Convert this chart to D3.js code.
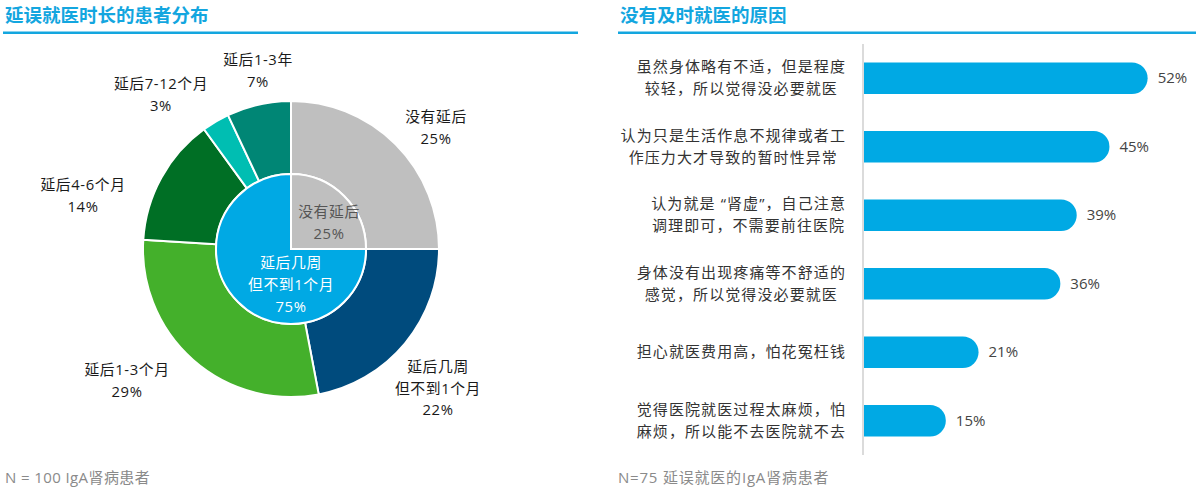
<!DOCTYPE html>
<html>
<head>
<meta charset="utf-8">
<script src="https://cdn.jsdelivr.net/npm/d3@7"></script>
<style>
  body { margin: 0; background: #fff; }
  svg { display: block; font-family: "Open Sans", "Noto Sans CJK SC", sans-serif; }
</style>
</head>
<body>
<svg width="1196" height="495"></svg>
<script>
// ---- Data ----
// outer ring (delay duration), clockwise from 12 o'clock
const delayLabels = ["没有延后", "延后几周|但不到1个月", "延后1-3个月", "延后4-6个月", "延后7-12个月", "延后1-3年"];
const delayValues = [25, 22, 29, 14, 3, 7];
const delayColors = ["#bfbfbf", "#004b7d", "#44b02b", "#006f25", "#00beb2", "#008675"];

// inner disc
const innerLabels = ["没有延后", "延后几周|但不到1个月"];
const innerValues = [25, 75];
const innerColors = ["#bfbfbf", "#00a9e4"];

// reasons for not seeking care
const reasonLabels = [
  "虽然身体略有不适，但是程度|较轻，所以觉得没必要就医",
  "认为只是生活作息不规律或者工|作压力大才导致的暂时性异常",
  "认为就是 “肾虚”，自己注意|调理即可，不需要前往医院",
  "身体没有出现疼痛等不舒适的|感觉，所以觉得没必要就医",
  "担心就医费用高，怕花冤枉钱",
  "觉得医院就医过程太麻烦，怕|麻烦，所以能不去医院就不去"
];
const reasonValues = [52, 45, 39, 36, 21, 15];

const svg = d3.select("svg");
const blue = "#13a6df";

// ---- Titles ----
function header(x, x2, title) {
  svg.append("text")
    .attr("x", x).attr("y", 22)
    .attr("fill", blue)
    .attr("font-size", 18.5)
    .attr("font-weight", "bold")
    .text(title);
  svg.append("rect")
    .attr("x", x - 2).attr("y", 31.5)
    .attr("width", x2 - x + 2).attr("height", 2.5)
    .attr("fill", blue);
}
header(5, 578, "延误就医时长的患者分布");
header(620, 1196, "没有及时就医的原因");

// ---- Left: nested pie ----
const cx = 291, cy = 249;
const rIn = 75, rOut = 148;
const pie = d3.pie().sort(null).value((d) => d);

const g = svg.append("g").attr("transform", `translate(${cx},${cy})`);

const outerArc = d3.arc().innerRadius(rIn).outerRadius(rOut);
g.append("g")
  .selectAll("path")
  .data(pie(delayValues))
  .join("path")
  .attr("d", outerArc)
  .attr("fill", (d, i) => delayColors[i])
  .attr("stroke", "#fff")
  .attr("stroke-width", 2);

const innerArc = d3.arc().innerRadius(0).outerRadius(rIn);
g.append("g")
  .selectAll("path")
  .data(pie(innerValues))
  .join("path")
  .attr("d", innerArc)
  .attr("fill", (d, i) => innerColors[i])
  .attr("stroke", "#fff")
  .attr("stroke-width", 2);

// multi-line label helper (lines split on "|", value appended as last line)
function multiLabel(sel, x, y, lines, color, size, lh) {
  const t = sel.append("text")
    .attr("text-anchor", "middle")
    .attr("fill", color)
    .attr("font-size", size)
    .attr("letter-spacing", 0.6);
  lines.forEach((s, i) => {
    t.append("tspan").attr("x", x).attr("y", y + i * lh).text(s);
  });
  return t;
}

// outer labels: placed around the ring
const outerLabelPos = [
  [145, -127], [147, 123], [-164, 126], [-208, -59], [-130, -160], [-33, -184]
];
pie(delayValues).forEach((d, i) => {
  const [dx, dy] = outerLabelPos[i];
  multiLabel(g, dx, dy, [...delayLabels[i].split("|"), delayValues[i] + "%"], "#1a1a1a", 14.8, 21.5);
});

// inner labels
multiLabel(g, 38, -32, [...innerLabels[0].split("|"), innerValues[0] + "%"], "#555", 14.8, 21.5);
multiLabel(g, 0, 19, [...innerLabels[1].split("|"), innerValues[1] + "%"], "#fff", 14.8, 22);

svg.append("text")
  .attr("x", 5).attr("y", 483)
  .attr("fill", "#8a8a8a")
  .attr("font-size", 15)
  .attr("letter-spacing", 0.4)
  .text("N = 100 IgA肾病患者");

// ---- Right: horizontal bars ----
const x0 = 864;
const x = d3.scaleLinear().domain([0, 55]).range([x0, x0 + 300]);
const y = d3.scaleBand()
  .domain(reasonLabels)
  .range([44, 455])
  .paddingInner(0.54)
  .paddingOuter(0.27);
const bh = y.bandwidth();

// rounded right end, flat left end
function barPath(d, i) {
  const y0 = y(reasonLabels[i]);
  const w = x(d) - x0;
  const r = Math.min(bh / 2, w);
  return `M${x0},${y0}H${x0 + w - r}A${r},${r} 0 0 1 ${x0 + w},${y0 + r}` +
    `V${y0 + bh - r}A${r},${r} 0 0 1 ${x0 + w - r},${y0 + bh}H${x0}Z`;
}

svg.append("g")
  .selectAll("path")
  .data(reasonValues)
  .join("path")
  .attr("d", barPath)
  .attr("fill", "#00a9e4");

svg.append("line")
  .attr("x1", x0 - 1).attr("x2", x0 - 1)
  .attr("y1", 44).attr("y2", 455)
  .attr("stroke", "#cfcfcf")
  .attr("stroke-width", 1.5);

// value labels
svg.append("g")
  .selectAll("text")
  .data(reasonValues)
  .join("text")
  .attr("x", (d) => x(d) + 10)
  .attr("y", (d, i) => y(reasonLabels[i]) + bh / 2 + 5)
  .attr("fill", "#444")
  .attr("font-size", 15)
  .text((d) => d + "%");

// category labels: block right-aligned at 846, lines centred within block
const labG = svg.append("g");
reasonLabels.forEach((lab, i) => {
  const lines = lab.split("|");
  const mid = y(lab) + bh / 2;
  const t = labG.append("text")
    .attr("text-anchor", "middle")
    .attr("fill", "#333")
    .attr("font-size", 15)
    .attr("letter-spacing", 1.1);
  const spans = lines.map((s, k) =>
    t.append("tspan")
      .attr("y", mid + 5 + (k - (lines.length - 1) / 2) * 22)
      .text(s)
  );
  const maxW = d3.max(spans, (s) => s.node().getComputedTextLength());
  spans.forEach((s) => s.attr("x", 846 - maxW / 2));
});

svg.append("text")
  .attr("x", 618).attr("y", 483)
  .attr("fill", "#8a8a8a")
  .attr("font-size", 15)
  .attr("letter-spacing", 0.8)
  .text("N=75 延误就医的IgA肾病患者");
</script>
</body>
</html>
